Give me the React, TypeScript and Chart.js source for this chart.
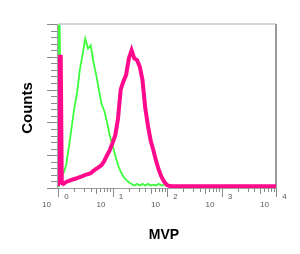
import React, { useEffect, useRef } from "react";
import { Chart, registerables } from "chart.js";

Chart.register(...registerables);

// log10 of fluorescence intensity (MVP) for each histogram point
const greenX = [0, 0.01, 0.03, 0.06, 0.10, 0.15, 0.20, 0.25, 0.30, 0.35, 0.40, 0.45, 0.50, 0.55, 0.60, 0.65, 0.70, 0.75, 0.80, 0.85, 0.90, 0.95, 1.00, 1.05, 1.10, 1.15, 1.20, 1.25, 1.30, 1.35, 1.40, 1.45, 1.50, 1.55, 1.60, 1.65, 1.70, 1.75, 1.80, 1.85, 1.90, 1.95, 2.00, 2.05, 2.10, 4.00];
const greenCounts = [1, 99, 99, 10, 9, 14, 25, 37, 49, 58, 72, 81, 91, 85, 87, 77, 69, 60, 51, 47, 40, 32, 26, 20, 14, 10, 7, 5, 3.5, 2.5, 1.5, 2.5, 1.5, 2.5, 1.5, 2.5, 1.5, 2, 1.5, 2.5, 1.5, 2, 1.5, 1, 1, 1];

const magentaX = [0, 0, 0.05, 0.07, 0.10, 0.15, 0.20, 0.25, 0.30, 0.35, 0.40, 0.45, 0.50, 0.55, 0.60, 0.65, 0.70, 0.75, 0.80, 0.85, 0.90, 0.95, 1.00, 1.05, 1.10, 1.15, 1.20, 1.25, 1.30, 1.35, 1.40, 1.45, 1.50, 1.55, 1.60, 1.65, 1.70, 1.75, 1.80, 1.85, 1.90, 1.95, 2.00, 2.05, 2.10, 4.00];
const magentaCounts = [1, 80, 80, 3, 2.5, 3.7, 4.3, 5, 5.5, 6, 6.7, 7.3, 8, 8.5, 9, 10.4, 11.6, 12.8, 14, 16.5, 20, 23, 27.4, 32, 42, 60, 65, 69, 79, 84, 79, 78, 74, 66, 49, 38, 29, 23, 16.5, 11, 6.7, 3.7, 1.8, 1.2, 1, 1];

// decade tick labels: base "10" with superscript exponent
const decadeExponents = ["0", "1", "2", "3", "4"];
const minorMultipliers = [2, 3, 4, 5, 6, 7, 8, 9];
const xTitle = "MVP";
const yTitle = "Counts";

const decorPlugin = {
  id: "facsDecor",
  beforeDatasetsDraw(chart: any) {
    const { ctx, chartArea } = chart;
    const { left, right, top, bottom } = chartArea;
    ctx.save();
    ctx.lineWidth = 1.5;
    ctx.strokeStyle = "#c8c8c8";
    ctx.beginPath();
    ctx.moveTo(left, top);
    ctx.lineTo(right, top);
    ctx.stroke();
    ctx.strokeStyle = "#9a9a9a";
    ctx.lineWidth = 2;
    ctx.beginPath();
    ctx.moveTo(right, top);
    ctx.lineTo(right, bottom);
    ctx.stroke();
    ctx.lineWidth = 1;
    ctx.strokeStyle = "#a0a0a0";
    ctx.beginPath();
    ctx.moveTo(left - 0.5, top);
    ctx.lineTo(left - 0.5, bottom + 0.5);
    ctx.lineTo(right, bottom + 0.5);
    ctx.stroke();
    ctx.restore();
  },
  afterDraw(chart: any) {
    const { ctx, chartArea, scales } = chart;
    const { left, bottom } = chartArea;
    const xs = scales.x;
    ctx.save();
    ctx.strokeStyle = "#8a8a8a";
    ctx.lineWidth = 1;
    // x ticks
    decadeExponents.forEach((e, i) => {
      const px = Math.round(xs.getPixelForValue(i)) + 0.5;
      ctx.beginPath();
      ctx.moveTo(px, bottom);
      ctx.lineTo(px, bottom + 9);
      ctx.stroke();
      if (i < decadeExponents.length - 1) {
        minorMultipliers.forEach((m) => {
          const mx = Math.round(xs.getPixelForValue(i + Math.log10(m))) + 0.5;
          ctx.beginPath();
          ctx.moveTo(mx, bottom);
          ctx.lineTo(mx, bottom + (m === 5 ? 6 : 4));
          ctx.stroke();
        });
      }
    });
    // y ticks
    const ys = scales.y;
    for (let k = 0; k <= 25; k++) {
      const py = Math.round(ys.getPixelForValue(k * 4)) + 0.5;
      const len = k % 5 === 0 ? 10 : 6;
      ctx.beginPath();
      ctx.moveTo(left - 1, py);
      ctx.lineTo(left - 1 - len, py);
      ctx.stroke();
    }
    // x tick labels
    ctx.fillStyle = "#555";
    ctx.font = "8px 'Liberation Sans', Arial, sans-serif";
    ctx.textAlign = "center";
    ctx.textBaseline = "middle";
    decadeExponents.forEach((e, i) => {
      const px = xs.getPixelForValue(i);
      ctx.fillText("10", px - 11.5, bottom + 17);
      ctx.fillText(e, px + 8.5, bottom + 9);
    });
    // axis titles
    ctx.fillStyle = "#000";
    ctx.font = "bold 14px 'Liberation Sans', Arial, sans-serif";
    ctx.fillText(xTitle, 164, 235);
    ctx.translate(28, 108);
    ctx.rotate(-Math.PI / 2);
    ctx.font = "bold 15px 'Liberation Sans', Arial, sans-serif";
    ctx.fillText(yTitle, 0, 0);
    ctx.restore();
  },
};

export default function App() {
  const ref = useRef<HTMLCanvasElement | null>(null);
  useEffect(() => {
    if (!ref.current) return;
    const chart = new Chart(ref.current, {
      type: "line",
      data: {
        datasets: [
          {
            label: "MVP",
            data: magentaX.map((x, i) => ({ x, y: magentaCounts[i] })),
            borderColor: "#ff0a8c",
            borderWidth: 4,
            pointRadius: 0,
            tension: 0,
            fill: false,
          },
          {
            label: "Isotype",
            data: greenX.map((x, i) => ({ x, y: greenCounts[i] })),
            borderColor: "#3cff3c",
            borderWidth: 1.8,
            pointRadius: 0,
            tension: 0,
            fill: false,
          },
        ],
      },
      options: {
        animation: false,
        responsive: false,
        layout: { padding: { left: 58, right: 24, top: 24, bottom: 66 } },
        scales: {
          x: { type: "linear", min: 0, max: 4, display: false },
          y: { min: 0, max: 100, display: false },
        },
        plugins: { legend: { display: false }, tooltip: { enabled: false } },
      },
      plugins: [decorPlugin],
    });
    return () => chart.destroy();
  }, []);
  return (
    <div style={{ position: "absolute", left: 0, top: 0, width: 300, height: 254, background: "#fff" }}>
      <canvas ref={ref} width={300} height={254} style={{ width: 300, height: 254 }} />
    </div>
  );
}
